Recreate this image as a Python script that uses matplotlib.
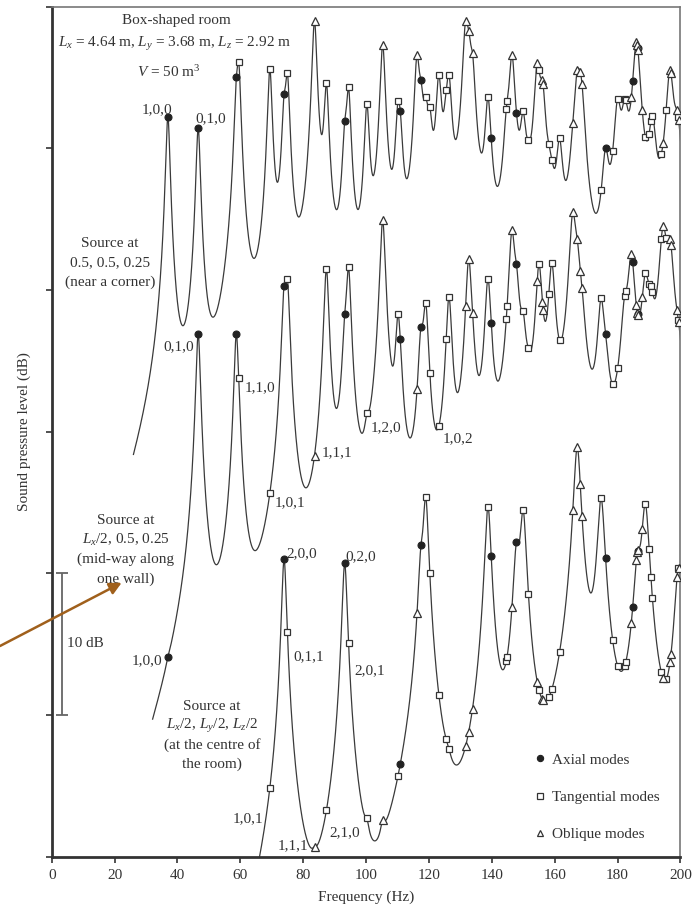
import numpy as np
import matplotlib
matplotlib.use("Agg")
import matplotlib.pyplot as plt
from matplotlib.lines import Line2D

plt.rcParams["font.family"] = ["Liberation Serif", "DejaVu Serif"]
plt.rcParams["mathtext.fontset"] = "custom"
plt.rcParams["mathtext.rm"] = "Liberation Serif"
plt.rcParams["mathtext.it"] = "Liberation Serif:italic"
plt.rcParams["font.size"] = 11

# room modes below 200 Hz, box room 4.64 x 3.68 x 2.92 m
mode_freq = [36.96, 46.60, 58.73, 59.48, 69.39, 73.92, 74.97, 83.59, 87.38, 93.20,
             94.41, 100.26, 105.28, 110.16, 110.88, 116.20, 117.46, 118.96, 120.27, 123.14,
             125.47, 126.37, 131.66, 132.66, 133.85, 138.78, 139.80, 144.60, 144.85, 146.40,
             147.84, 149.94, 151.64, 154.43, 155.01, 156.08, 156.30, 158.14, 159.08, 161.53,
             165.76, 167.17, 168.11, 168.69, 174.76, 176.19, 178.43, 180.02, 182.25, 182.59,
             184.37, 184.80, 185.96, 186.30, 186.40, 186.49, 187.85, 188.82, 190.03, 190.58,
             191.07, 193.91, 194.48, 195.43, 196.67, 196.99, 198.90, 199.32, 199.43]
mode_kind = ["A", "A", "A", "T", "T", "A", "T", "O", "T", "A",
             "T", "T", "O", "T", "A", "O", "A", "T", "T", "T",
             "T", "T", "O", "O", "O", "T", "A", "T", "T", "O",
             "A", "T", "T", "O", "T", "O", "O", "T", "T", "T",
             "O", "O", "O", "O", "T", "A", "T", "T", "T", "T",
             "O", "A", "O", "O", "A", "O", "O", "T", "T", "T",
             "T", "T", "O", "T", "O", "O", "O", "T", "O"]

# level (dB) at each mode frequency, one list per source position
corner_db = [52.2, 51.4, 55.0, 56.1, 55.6, 53.8, 55.3, 59.0, 54.6, 51.9,
             54.3, 53.1, 57.3, 53.3, 52.6, 56.6, 54.8, 53.6, 52.9, 55.2,
             54.1, 55.2, 59.0, 58.3, 56.7, 53.6, 50.7, 52.8, 53.3, 56.6,
             52.5, 52.6, 50.6, 56.0, 55.5, 54.8, 54.5, 50.3, 49.2, 50.7,
             51.8, 55.5, 55.4, 54.5, 46.6, 50.0, 48.6, 53.5, 53.5, 53.4,
             52.8, 53.9, 57.5, 57.2, 57.1, 56.9, 52.6, 50.8, 50.2, 51.6,
             52.3, 49.6, 50.2, 51.8, 55.5, 55.1, 52.7, 52.2, 51.8]
wall_db = [14.1, 36.9, 36.9, 33.8, 25.6, 40.3, 40.8, 28.3, 41.5, 38.3,
           41.6, 31.3, 44.9, 38.3, 36.5, 32.2, 37.4, 39.1, 34.0, 30.4,
           35.9, 39.5, 38.6, 42.2, 38.4, 40.8, 37.3, 37.6, 38.3, 44.2,
           41.8, 38.5, 35.9, 39.5, 41.8, 38.1, 36.8, 39.4, 41.9, 35.4,
           45.5, 43.6, 40.9, 40.1, 39.4, 36.9, 32.3, 33.3, 39.6, 39.8,
           42.5, 41.9, 37.4, 37.3, 37.2, 37.2, 38.0, 41.2, 38.8, 40.3,
           39.5, 43.5, 44.5, 42.9, 43.6, 43.1, 38.3, 37.9, 37.5]
centre_db = [np.nan, np.nan, np.nan, np.nan, 3.2, 21.0, 14.6, 0.7, 2.5, 20.7,
             13.9, 2.7, 2.6, 5.5, 6.0, 16.0, 22.0, 25.4, 19.5, 10.9,
             8.3, 7.6, 7.6, 8.5, 9.4, 24.7, 20.4, 12.3, 12.3, 15.3,
             22.2, 24.5, 17.7, 11.8, 11.3, 10.7, 10.6, 11.1, 11.5, 13.8,
             23.8, 28.9, 25.6, 23.8, 25.3, 18.9, 13.5, 11.9, 11.8, 11.7,
             13.8, 14.8, 20.1, 21.5, 21.6, 20.9, 22.0, 24.9, 19.8, 17.4,
             16.0, 12.1, 12.0, 12.0, 12.8, 13.4, 18.2, 19.6, 20.4]
curve_start = [26.0, 32.1, 60.0]   # Hz

ink = "#333333"


def mode_shape(f, fn):
    bw = 1.25 + 3e-5 * fn ** 2      # half-power bandwidth, Hz
    f = np.asarray(f)[:, None]
    peak = (fn * bw) ** 2 / ((fn ** 2 - f ** 2) ** 2 + (f * bw) ** 2)
    return peak * np.exp(-((f - fn) / 20.0) ** 2)


def response(levels, f_from):
    fn = np.array(mode_freq)
    lv = np.array(levels, dtype=float)
    ok = ~np.isnan(lv)
    target = np.where(ok, 10 ** (np.nan_to_num(lv) / 10), 1.0)
    G = mode_shape(fn, fn)
    amp = np.where(ok, target, 0.0)
    for _ in range(800):
        amp = np.where(ok, amp * target / (G @ amp), 0.0)
    f = np.arange(f_from, 200.001, 0.02)
    curve = 10 * np.log10(mode_shape(f, fn) @ amp)
    at_modes = 10 * np.log10(G @ amp)
    return f, curve, at_modes


fig = plt.figure(figsize=(6.95, 9.05), dpi=100)
ax = fig.add_axes([0.0744, 0.0534, 0.9047, 0.9394])

styles = {
    "A": dict(marker="o", ms=5.0, mfc="#222222", mec="#222222", mew=0.8),
    "T": dict(marker="s", ms=5.0, mfc="white", mec=ink, mew=0.9),
    "O": dict(marker="^", ms=6.0, mfc="white", mec=ink, mew=0.9),
}

kinds = np.array(mode_kind)
freqs = np.array(mode_freq)
for levels, f0 in zip([corner_db, wall_db, centre_db], curve_start):
    f, curve, at_modes = response(levels, f0)
    ax.plot(f, curve, color="#3a3a3a", lw=0.9, zorder=2)
    for k in ["A", "T", "O"]:
        sel = kinds == k
        ax.plot(freqs[sel], at_modes[sel], ls="none", zorder=3, **styles[k])

ax.set_xlim(0, 200)
ax.set_ylim(0, 60)
ax.set_xticks(np.arange(0, 201, 20))
ax.set_yticks(np.arange(0, 61, 10))
ax.set_yticklabels([])
ax.tick_params(direction="out", length=4, width=1.2, color=ink, labelcolor=ink, pad=5)
for side in ["left", "bottom"]:
    ax.spines[side].set_linewidth(2.0)
    ax.spines[side].set_color(ink)
for side in ["top", "right"]:
    ax.spines[side].set_linewidth(1.2)
    ax.spines[side].set_color("#777777")
ax.set_xlabel("Frequency (Hz)", color=ink, labelpad=6)
ax.set_ylabel("Sound pressure level (dB)", color=ink, labelpad=6)

# room description
ax.text(39.5, 59.0, "Box-shaped room", ha="center", va="center", color=ink)
ax.text(39.1, 57.35, r"$L_x$ = 4.64 m, $L_y$ = 3.68 m, $L_z$ = 2.92 m",
        ha="center", va="center", color=ink)
ax.text(37.15, 55.4, r"$V$ = 50 m$^3$", ha="center", va="center", color=ink)

# source positions
blocks = [
    (18.5, 43.3, ["Source at", "0.5, 0.5, 0.25", "(near a corner)"]),
    (23.6, 23.7, ["Source at", r"$L_x$/2, 0.5, 0.25", "(mid-way along", "one wall)"]),
    (51.0, 10.6, ["Source at", r"$L_x$/2, $L_y$/2, $L_z$/2", "(at the centre of", "the room)"]),
]
for x0, y0, lines in blocks:
    for i, s in enumerate(lines):
        ax.text(x0, y0 - 1.37 * i, s, ha="center", va="center", color=ink)

# mode labels
mode_labels = [
    (33.5, 52.7, "1,0,0"), (50.7, 52.1, "0,1,0"),
    (40.5, 36.0, "0,1,0"), (66.3, 33.1, "1,1,0"), (90.7, 28.5, "1,1,1"),
    (75.8, 25.0, "1,0,1"), (30.3, 13.8, "1,0,0"), (106.3, 30.3, "1,2,0"),
    (129.2, 29.5, "1,0,2"),
    (79.6, 21.4, "2,0,0"), (98.4, 21.2, "0,2,0"), (81.8, 14.1, "0,1,1"),
    (101.2, 13.1, "2,0,1"), (62.4, 2.7, "1,0,1"), (76.7, 0.75, "1,1,1"),
    (93.3, 1.7, "2,1,0"),
]
for x0, y0, s in mode_labels:
    ax.text(x0, y0, s, ha="center", va="center", color=ink)

# 10 dB scale
ax.errorbar([3.2], [15.0], yerr=[5.0], color="#666666", lw=1.3, capsize=4, capthick=1.3)
ax.text(4.8, 15.05, "10 dB", ha="left", va="center", color=ink)

# legend
handles = [Line2D([], [], ls="none", **dict(styles["A"], ms=4.5)),
           Line2D([], [], ls="none", **dict(styles["T"], ms=4.5)),
           Line2D([], [], ls="none", **dict(styles["O"], ms=5.0))]
ax.legend(handles, ["Axial modes", "Tangential modes", "Oblique modes"],
          loc="upper left", bbox_to_anchor=(0.755, 0.131), frameon=False,
          handlelength=0.8, handletextpad=0.4, labelspacing=1.55,
          borderpad=0, labelcolor=ink)

ax.annotate("", xy=(121.7 / 695, 1 - 582.7 / 905), xytext=(0.0, 1 - 646 / 905),
            xycoords="figure fraction", textcoords="figure fraction",
            arrowprops=dict(arrowstyle="-|>", color="#a0601c", lw=1.8,
                            mutation_scale=18, shrinkA=0, shrinkB=0))

fig.savefig("out.png", dpi=100)
